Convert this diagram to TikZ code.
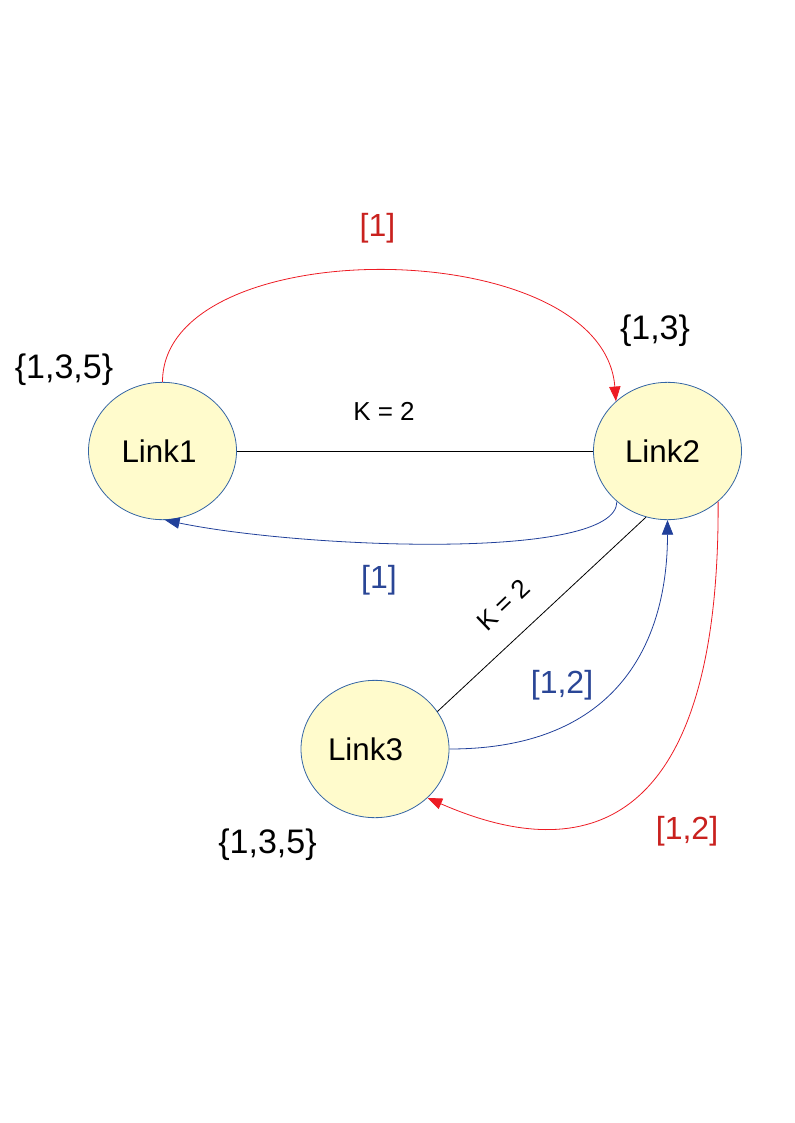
\documentclass[tikz,border=0pt]{standalone}
\usepackage{fontspec}
\setmainfont{Liberation Sans}
\usetikzlibrary{arrows.meta,shapes.geometric}
\definecolor{arrred}{RGB}{237,28,36}
\definecolor{arrblue}{RGB}{33,64,154}
\definecolor{txtred}{RGB}{201,33,30}
\definecolor{txtblue}{RGB}{42,70,150}
\definecolor{nodefill}{RGB}{255,251,204}
\definecolor{nodeborder}{RGB}{52,101,164}
\begin{document}
\begin{tikzpicture}[x=0.75pt,y=-0.75pt,
  linknode/.style={ellipse, draw=nodeborder, fill=nodefill, line width=0.6pt,
    minimum width=111pt, minimum height=103pt, inner sep=0pt,
    font=\fontsize{23.5}{27}\selectfont},
  lbl/.style={inner sep=0pt, font=\fontsize{24}{28}\selectfont},
  kl/.style={inner sep=0pt, font=\fontsize{19.5}{23}\selectfont},
  setl/.style={inner sep=0pt, font=\fontsize{25.5}{30}\selectfont},
  plainline/.style={draw=black, line width=0.6pt},
  redarr/.style={draw=arrred, line width=0.6pt, -{Triangle[length=11pt,width=8.5pt]}},
  bluearr/.style={draw=arrblue, line width=0.6pt, -{Triangle[length=11pt,width=8.5pt]}}
]
\useasboundingbox (0,0) rectangle (794,1123);

\node[linknode] (L1) at (162.5,451) {\kern-5.25pt Link1};
\node[linknode] (L2) at (667.5,451) {\kern-7.5pt Link2};
\node[linknode] (L3) at (375,749) {\kern-14.25pt Link3};

% connectors
\draw[plainline] (L1.east) -- (L2.west);
\draw[plainline] (L2.252) -- (L3.31);
\draw[redarr] (L1.north) .. controls +(0,-152) and +(-13,-169) .. (L2.136);
\draw[bluearr] (L2.225) .. controls +(0,60) and +(135,28) .. (L1.-88);
\draw[bluearr] (L3.east) .. controls +(171,0) and +(0,119) .. (L2.south);
\draw[redarr] (L2.-45) .. controls +(2,390) and +(103,45) .. (L3.-43);

% labels
\node[lbl, text=txtred] (r1) at (377.5,228) {[1]};
\node[lbl, text=txtblue] (b1) at (379,580) {[1]};
\node[lbl, text=txtblue] (b12) at (562,685) {[1,2]};
\node[lbl, text=txtred] (r12) at (687,831) {[1,2]};
\node[kl] (k1) at (384,411) {K = 2};
\node[kl, rotate=43.6] (k2) at (503,605) {K = 2};
\node[setl] (s13) at (655,331) {\{1,3\}};
\node[setl] (s135a) at (64,370) {\{1,3,5\}};
\node[setl] (s135b) at (267.5,845) {\{1,3,5\}};
\end{tikzpicture}
\end{document}
